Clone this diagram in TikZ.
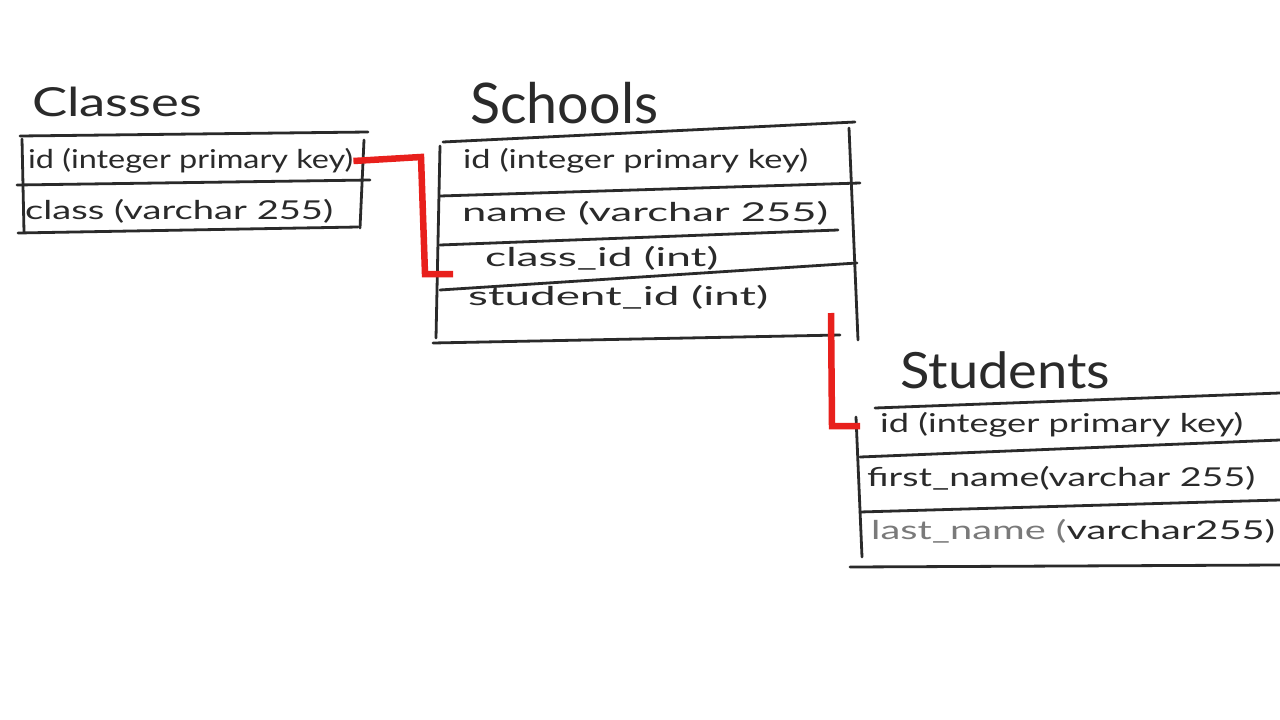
\documentclass[tikz,border=0pt]{standalone}
\usepackage{fontspec}
\setmainfont{Lato}
\usepackage{graphicx}
\definecolor{ink}{HTML}{2A2A2A}
\definecolor{inkgrey}{HTML}{7A7A7A}
\definecolor{fkred}{HTML}{E8201C}
\newcommand{\fitw}[2]{\resizebox{#1}{\height}{#2}}
\begin{document}
\begin{tikzpicture}[x=1pt,y=-1pt,
  ln/.style={draw=ink, line width=2.8pt, line cap=round},
  fk/.style={draw=fkred, line width=6.5pt, line join=miter},
  row/.style={font=\fontsize{26}{30}\selectfont, text=ink, inner sep=0pt, anchor=west},
  ttl/.style={text=ink, inner sep=0pt, anchor=base west}]
\useasboundingbox (0,0) rectangle (1280,720);
\fill[white] (0,0) rectangle (1280,720);

% ---------- Classes ----------
\node[ttl, font=\fontsize{40}{44}\selectfont] (ctitle) at (32,116) {\fitw{170pt}{Classes}};
\draw[ln] (20,136) -- (368,132);
\draw[ln] (22,139) -- (24,232);
\draw[ln] (364,140) -- (360,228);
\draw[ln] (17,185) -- (370,180);
\draw[ln] (18,233) -- (358,227);
\node[row] (cid) at (28,161) {\fitw{325pt}{id (integer primary key)}};
\node[row] (cclass) at (25,211) {\fitw{308pt}{class (varchar 255)}};

% ---------- Schools ----------
\node[ttl, font=\fontsize{56}{60}\selectfont] (stitle) at (470,123) {\fitw{188pt}{Schools}};
\draw[ln] (443,142) -- (855,122);
\draw[ln] (440,146) -- (436,338);
\draw[ln] (849,128) -- (858,340);
\draw[ln] (440,196) -- (860,183);
\draw[ln] (440,245) -- (838,230);
\draw[ln] (440,290) -- (857,263);
\draw[ln] (433,343) -- (840,335);
\node[row] (sid) at (463,161) {\fitw{345pt}{id (integer primary key)}};
\node[row] (sname) at (462,213) {\fitw{366pt}{name (varchar 255)}};
\node[row] (sclass) at (485,258) {\fitw{233pt}{class\_id (int)}};
\node[row] (sstudent) at (468,297) {\fitw{300pt}{student\_id (int)}};

% ---------- Students ----------
\node[ttl, font=\fontsize{50}{54}\selectfont] (ttitle) at (900,388) {\fitw{210pt}{Students}};
\draw[ln] (875,408) -- (1280,393);
\draw[ln] (856,417) -- (862,557);
\draw[ln] (860,457) -- (1280,440);
\draw[ln] (860,512) -- (1280,500);
\draw[ln] (850,567) -- (1280,565);
\node[row] (tid) at (880,425) {\fitw{363pt}{id (integer primary key)}};
\node[row] (tfirst) at (867,478) {\fitw{388pt}{first\_name(varchar 255)}};
\node[row] (tlast) at (871,531) {\fitw{404pt}{\textcolor{inkgrey}{last\_name (}varchar255)}};

% ---------- foreign-key connectors ----------
\coordinate (k1) at (421,157);
\coordinate (k2) at (425,274);
\coordinate (k2e) at (453,274);
\coordinate (k3) at (831,313);
\coordinate (k4) at (832,426);
\coordinate (k4e) at (860,426);
\draw[fk] (cid.east) -- (k1) -- (k2) -- (k2e);
\draw[fk] (k3) -- (k4) -- (k4e);
\end{tikzpicture}
\end{document}
